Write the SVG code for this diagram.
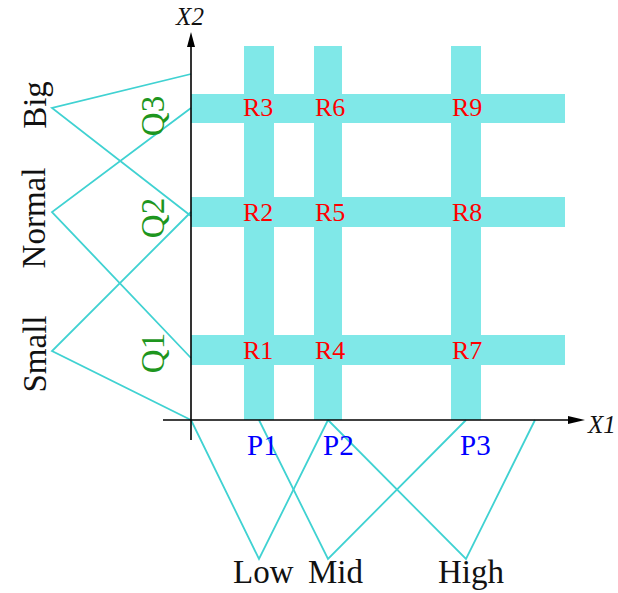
<svg xmlns="http://www.w3.org/2000/svg" width="618" height="593" viewBox="0 0 618 593">
<style>
.band{fill:#80E8E8}
.mf{fill:none;stroke:#40D2D2;stroke-width:1.8}
.ax{stroke:#000;stroke-width:1.6;fill:none}
text{font-family:"Liberation Serif","Times New Roman",serif}
.r{fill:#FF0000;font-size:26px}
.p{fill:#0000FF;font-size:29px}
.q{fill:#1E961E;font-size:33px}
.lab{fill:#111;font-size:33px}
.axl{fill:#111;font-size:25px;font-style:italic}
</style>
<rect width="618" height="593" fill="#fff"/>
<g id="bands">
<rect class="band" x="244" y="46" width="30" height="374"/>
<rect class="band" x="314" y="46" width="28" height="374"/>
<rect class="band" x="451" y="46" width="30" height="374"/>
<rect class="band" x="191" y="94" width="374" height="29"/>
<rect class="band" x="191" y="197" width="374" height="30"/>
<rect class="band" x="191" y="335" width="374" height="30"/>
</g>
<g id="connectors">
<polyline class="mf" points="191,74 52,108 191,216"/>
<polyline class="mf" points="191,108 52,212 191,358"/>
<polyline class="mf" points="191,212 52,351 191,420"/>
<polyline class="mf" points="191,420 259,559 328,420"/>
<polyline class="mf" points="259,420 328,559 466,420"/>
<polyline class="mf" points="328,420 466,559 535,420"/>
</g>
<g id="axes">
<line class="ax" x1="191" y1="440" x2="191" y2="44"/>
<polygon points="191,32 187,47 195,47" fill="#000"/>
<line class="ax" x1="163" y1="420" x2="572" y2="420"/>
<polygon points="585,420 568,416 568,424" fill="#000"/>
<text class="axl" x="190" y="25" text-anchor="middle">X2</text>
<text class="axl" x="588" y="433">X1</text>
</g>
<g id="x2-sets">
<text class="lab" transform="translate(46,105) rotate(-90)" text-anchor="middle">Big</text>
<text class="lab" transform="translate(45,218) rotate(-90)" text-anchor="middle">Normal</text>
<text class="lab" transform="translate(46,354) rotate(-90)" text-anchor="middle">Small</text>
<text class="q" transform="translate(164,116) rotate(-90)" text-anchor="middle">Q3</text>
<text class="q" transform="translate(164,218) rotate(-90)" text-anchor="middle">Q2</text>
<text class="q" transform="translate(164,353) rotate(-90)" text-anchor="middle">Q1</text>
</g>
<g id="x1-sets">
<text class="p" x="247" y="455">P1</text>
<text class="p" x="323" y="455">P2</text>
<text class="p" x="460" y="455">P3</text>
<text class="lab" x="233" y="583">Low</text>
<text class="lab" x="308" y="583">Mid</text>
<text class="lab" x="438" y="583">High</text>
</g>
<g id="rules">
<text class="r" x="243" y="116">R3</text>
<text class="r" x="315" y="116">R6</text>
<text class="r" x="452" y="116">R9</text>
<text class="r" x="243" y="221">R2</text>
<text class="r" x="315" y="221">R5</text>
<text class="r" x="452" y="221">R8</text>
<text class="r" x="243" y="359">R1</text>
<text class="r" x="315" y="359">R4</text>
<text class="r" x="452" y="359">R7</text>
</g>
</svg>
